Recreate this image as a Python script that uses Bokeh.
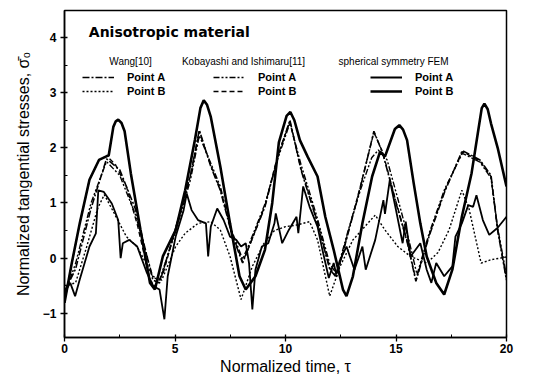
from bokeh.plotting import figure
from bokeh.models import Range1d, Legend, LegendItem, Label, FixedTicker
from bokeh.embed import file_html
from bokeh.resources import INLINE

# ---------------- data ----------------
t_fem_b = [0, 0.33, 0.69, 1.13, 1.56, 1.92, 2.0, 2.21, 2.32, 2.43, 2.58, 2.72, 3.0, 3.44, 3.87, 4.09, 4.45, 5.03,
           5.46, 5.9, 6.15, 6.3, 6.45, 6.62, 7.05, 7.49, 7.92, 8.2, 8.64, 9.07, 9.4, 9.7, 10.05, 10.22, 10.4,
           10.65, 11.0, 11.45, 11.8, 12.18, 12.6, 12.76, 13.05, 13.48, 13.92, 14.28, 14.5, 14.95, 15.15, 15.32,
           15.5, 15.8, 16.1, 16.39, 16.82, 17.18, 17.55, 17.98, 18.42, 18.7, 18.88, 19.0, 19.15, 19.3, 19.6, 20]
v_fem_b = [-0.81, -0.09, 0.63, 1.42, 1.78, 1.85, 1.86, 2.38, 2.48, 2.51, 2.45, 2.3, 1.54, 0.51, -0.45, -0.57, 0.03, 0.51,
           1.23, 2.14, 2.72, 2.86, 2.78, 2.56, 1.66, 0.63, -0.33, -0.57, -0.33, 0.15, 1.0, 2.1, 2.58, 2.65, 2.5,
           2.14, 1.84, 1.48, 0.75, 0.15, -0.57, -0.69, -0.33, 0.63, 1.48, 1.93, 1.84, 2.34, 2.41, 2.33,
           2.14, 1.36, 0.63, 0.03, -0.45, -0.66, -0.21, 0.75, 1.54, 2.26, 2.72, 2.8, 2.7, 2.44, 2.0, 1.3]

t_fem_a = [0, 0.26, 0.48, 0.69, 1.13, 1.42, 1.53, 1.78, 2.14, 2.43, 2.54, 2.64, 2.93, 3.29, 3.73, 4.02, 4.3,
           4.52, 4.67, 5.03, 5.39, 5.53, 5.75, 6.04, 6.4, 6.5, 6.62, 6.91, 7.2, 7.49, 7.77, 7.99, 8.2, 8.35,
           8.5, 8.64, 8.93, 9.22, 9.5, 9.56, 9.85, 10.15, 10.5, 10.58, 10.8, 11.09, 11.45, 11.67, 11.96,
           12.18, 12.3, 12.45, 12.76, 13.12, 13.48, 13.63, 14.06, 14.43, 14.5, 14.72, 15.0, 15.3, 15.44,
           15.66, 16.1, 16.39, 16.6, 16.82, 17.18, 17.55, 17.69, 17.98, 18.27, 18.49, 18.64, 18.93, 19.22,
           19.6, 20]
v_fem_a = [-0.63, -0.45, -0.69, -0.39, 0.21, 0.45, 1.23, 1.2, 0.99, 0.69, 0.0, 0.27, 0.33, 0.21, -0.27, -0.51, -0.57,
           -1.11, -0.33, 0.39, 0.87, 1.17, 0.87, 0.69, 0.63, 0.03, 0.57, 0.9, 0.69, 0.39, 0.33, 0.21, 0.27, -0.09,
           -0.93, -0.21, 0.21, 0.27, 0.63, 0.81, 0.27, 0.51, 0.75, 0.45, 1.3, 0.93, 0.57, 0.15, -0.36,
           -0.09, -0.3, -0.05, 0.21, -0.21, 0.21, -0.21, 0.33, 1.05, 0.8, 1.42, 0.87, 0.27, 0.66,
           0.03, 0.27, -0.21, -0.45, -0.09, -0.33, -0.15, 0.39, 0.63, 0.96, 0.93, 1.14, 0.69, 0.42,
           0.55, 0.75]

t_wang_a = [0, 0.5, 1.2, 1.9, 2.5, 3.2, 4.0, 4.3, 5.0, 5.7, 6.1, 6.62, 7.05, 7.56, 8.06, 8.35, 9.07, 9.65,
            10.2, 10.7, 11.4, 12.0, 12.3, 12.8, 13.4, 14.0, 14.4, 15.0, 15.5, 15.9, 16.5, 17.2, 18.0,
            18.8, 19.3, 19.6, 20]
v_wang_a = [-0.6, -0.2, 0.9, 1.8, 1.6, 0.9, -0.4, -0.45, 0.5, 1.5, 2.32, 1.66, 1.23, 0.45, -0.09, 0.21, 0.93, 1.84,
            2.5, 1.6, 0.7, -0.2, -0.35, 0.4, 1.3, 2.3, 1.9, 1.0, 0.3, -0.42, 0.4, 1.2, 1.95,
            1.78, 1.5, 0.5, -0.4]

t_kob_a = [0, 0.5, 1.2, 1.9, 2.5, 3.2, 4.0, 4.3, 5.0, 5.7, 6.1, 6.62, 7.05, 7.56, 8.06, 8.35, 9.07, 9.65,
           10.2, 10.7, 11.4, 12.0, 12.3, 12.8, 13.4, 13.9, 14.2, 14.6, 15.1, 15.6, 15.95, 16.5, 17.2, 18.0,
           18.8, 19.3, 19.6, 20]
v_kob_a = [-0.66, -0.1, 1.0, 1.75, 1.5, 0.8, -0.35, -0.4, 0.45, 1.42, 2.22, 1.72, 1.3, 0.5, -0.02, 0.25, 0.98, 1.8,
           2.45, 1.7, 0.78, -0.1, -0.28, 0.45, 1.25, 1.82, 1.96, 1.78, 1.05, 0.3, -0.3, 0.45, 1.25, 1.9,
           1.74, 1.45, 0.55, -0.32]

t_wang_b = [0, 0.5, 1.0, 1.5, 1.8, 2.2, 2.8, 3.3, 4.0, 4.4, 5.03, 5.46, 6.04, 6.62, 7.05, 7.49, 7.99, 8.5,
            9.0, 9.5, 10.0, 10.5, 11.09, 11.45, 12.0, 12.47, 13.05, 14.06, 14.5, 15.08, 15.66, 16.4,
            16.9, 17.4, 17.98, 18.3, 18.85, 19.3, 20]
v_wang_b = [-0.5, -0.45, 0.2, 0.9, 1.15, 0.85, 0.39, 0.2, -0.33, -0.4, 0.21, 0.45, 0.63, 0.66, 0.51, 0.03, -0.75, -0.15,
            0.25, 0.5, 0.57, 0.6, 0.66, 0.33, -0.69, -0.15, 0.33, 0.78, 0.51, 0.21, 0.03, -0.09,
            0.1, 0.51, 1.23, 0.9, -0.09, -0.03, 0.02]

t_kob_b = [0, 0.33, 0.69, 1.13, 1.56, 1.92, 2.3, 2.8, 3.3, 3.87, 4.09, 4.45, 5.0, 5.7, 6.1, 6.62, 7.05, 7.56,
           8.06, 8.35, 9.07, 9.65, 10.2, 10.7, 11.4, 12.0, 12.3, 12.8, 13.4, 14.0, 14.4, 15.0, 15.5, 15.9,
           16.5, 17.2, 18.0, 18.8, 19.3, 19.6, 20]
v_kob_b = [-0.81, -0.09, 0.63, 1.42, 1.78, 1.85, 1.7, 1.3, 0.6, -0.4, -0.5, -0.3, 0.5, 1.5, 2.3, 1.68, 1.25, 0.47,
           -0.07, 0.2, 0.95, 1.86, 2.48, 1.62, 0.72, -0.18, -0.33, 0.42, 1.32, 2.28, 1.92, 1.02, 0.32, -0.4,
           0.42, 1.22, 1.93, 1.76, 1.48, 0.52, -0.38]

x_ticks = [0, 5, 10, 15, 20]
y_ticks = [-1, 0, 1, 2, 3, 4]

FONT = "Liberation Sans"

# ---------------- figure ----------------
p = figure(width=543, height=386, output_backend="svg", toolbar_location=None,
           x_range=Range1d(0, 20), y_range=Range1d(-1.44, 4.49),
           min_border_left=64, min_border_right=37, min_border_top=10, min_border_bottom=49)
p.xgrid.visible = False
p.ygrid.visible = False
p.outline_line_color = "black"
p.outline_line_width = 1.5
p.background_fill_color = "white"
p.border_fill_color = "white"

p.xaxis.ticker = FixedTicker(ticks=x_ticks, minor_ticks=[2.5, 7.5, 12.5, 17.5])
p.yaxis.ticker = FixedTicker(ticks=y_ticks, minor_ticks=[-0.5, 0.5, 1.5, 2.5, 3.5])
for ax in (p.xaxis, p.yaxis):
    ax.axis_line_color = "black"
    ax.axis_line_width = 1.5
    ax.major_tick_line_color = "black"
    ax.minor_tick_line_color = "black"
    ax.major_tick_line_width = 1.3
    ax.major_tick_out = 4
    ax.major_tick_in = 3
    ax.minor_tick_out = 0
    ax.minor_tick_in = 3
    ax.major_label_text_font = FONT
    ax.major_label_text_font_size = "12px"
    ax.major_label_text_font_style = "bold"
    ax.major_label_text_color = "black"
    ax.axis_label_text_font = FONT
    ax.axis_label_text_font_size = "16px"
    ax.axis_label_text_font_style = "normal"
    ax.axis_label_text_color = "black"

p.xaxis.axis_label = "Normalized time, τ"
p.yaxis.axis_label = "Normalized tangential stresses, σ\u0304\u2080"
p.xaxis.major_label_standoff = 2
p.xaxis.axis_label_standoff = 2
p.yaxis.major_label_standoff = 4
p.yaxis.axis_label_standoff = 8

# ---------------- curves ----------------
r_wang_a = p.line(t_wang_a, v_wang_a, line_color="black", line_width=1.6, line_dash="7 2 2 2")
r_wang_b = p.line(t_wang_b, v_wang_b, line_color="black", line_width=1.4, line_dash="2 2")
r_kob_a = p.line(t_kob_a, v_kob_a, line_color="black", line_width=1.4, line_dash="6 2 2 2 2 2")
r_kob_b = p.line(t_kob_b, v_kob_b, line_color="black", line_width=1.4, line_dash="5 3")
r_fem_a = p.line(t_fem_a, v_fem_a, line_color="black", line_width=1.8)
r_fem_b = p.line(t_fem_b, v_fem_b, line_color="black", line_width=2.6)

# ---------------- annotations / legends ----------------
p.add_layout(Label(x=1.1, y=4.1, text="Anisotropic material", text_font="DejaVu Sans",
                   text_font_size="14px", text_font_style="bold", text_baseline="middle",
                   text_color="black"))

headers = [("Wang[10]", 2.99), ("Kobayashi and Ishimaru[11]", 8.1), ("spherical symmetry FEM", 14.89)]
for txt, xc in headers:
    p.add_layout(Label(x=xc, y=3.56, text=txt, text_font=FONT, text_font_size="10px",
                       text_align="center", text_baseline="middle", text_color="black"))

def make_legend(ra, rb, loc):
    lg = Legend(items=[LegendItem(label="Point A", renderers=[ra]),
                       LegendItem(label="Point B", renderers=[rb])],
                location=loc, orientation="vertical",
                glyph_width=32, glyph_height=14, label_height=14, label_standoff=13,
                padding=0, spacing=0, margin=0,
                background_fill_alpha=0, border_line_alpha=0,
                label_text_font=FONT, label_text_font_size="11px",
                label_text_font_style="bold", label_text_color="black")
    p.add_layout(lg)

make_legend(r_wang_a, r_wang_b, (18, 239))
make_legend(r_kob_a, r_kob_b, (149, 239))
make_legend(r_fem_a, r_fem_b, (306, 239))

open("out.html", "w").write(file_html(p, INLINE))
